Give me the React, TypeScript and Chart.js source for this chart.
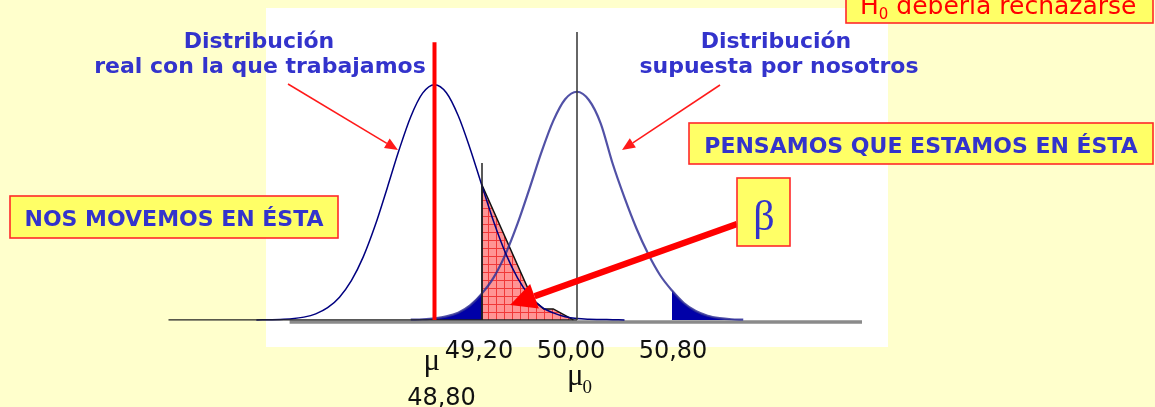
import React, { useEffect, useRef } from "react";
import { Chart, registerables } from "chart.js";

Chart.register(...registerables);

// ---- Data (x = sample mean, y = relative density) ----
const realCurveX = [
  47.3, 47.4, 47.5, 47.6, 47.7, 47.8, 47.9, 48.0, 48.1, 48.2, 48.3, 48.4, 48.5, 48.6, 48.7, 48.8,
  48.9, 49.0, 49.1, 49.2, 49.3, 49.4, 49.5, 49.6, 49.7, 49.8, 49.9, 50.0, 50.1, 50.2, 50.3, 50.4,
];
const realCurveY = [
  0.0, 0.001, 0.002, 0.005, 0.012, 0.026, 0.052, 0.097, 0.167, 0.268, 0.401, 0.558, 0.72, 0.864, 0.964, 1.0,
  0.966, 0.868, 0.728, 0.57, 0.415, 0.282, 0.178, 0.103, 0.056, 0.03, 0.014, 0.006, 0.003, 0.002, 0.001, 0.0,
];

const assumedCurveX = [
  48.6, 48.7, 48.8, 48.9, 49.0, 49.1, 49.2, 49.3, 49.4, 49.5, 49.6, 49.7, 49.8, 49.9, 50.0,
  50.1, 50.2, 50.3, 50.4, 50.5, 50.6, 50.7, 50.8, 50.9, 51.0, 51.1, 51.2, 51.3, 51.4,
];
const assumedCurveY = [
  0.001, 0.003, 0.007, 0.015, 0.031, 0.062, 0.113, 0.182, 0.282, 0.41, 0.558, 0.712, 0.846, 0.938, 0.97,
  0.935, 0.835, 0.665, 0.52, 0.39, 0.28, 0.19, 0.125, 0.072, 0.038, 0.018, 0.008, 0.003, 0.001,
];

const betaX = [49.2, 49.2, 49.63, 49.72, 49.8, 49.97];
const betaY = [0, 0.574, 0.085, 0.047, 0.047, 0];

const criticalLow = 49.2;
const criticalHigh = 50.8;
const realMean = 48.8;
const assumedMean = 50.0;

const tickValues = [49.2, 50.0, 50.8];
const tickLabels = ["49,20", "50,00", "50,80"];
const realMeanLabel = "48,80";

const axisExtent = [46.56, 50.0];
const grayAxisExtent = [47.58, 52.4];
const realMeanLineTop = 1.18;
const assumedMeanLineTop = 1.224;
const criticalLineTop = 0.667;

const pts = (xs: number[], ys: number[]) => xs.map((x, i) => ({ x, y: ys[i] }));

function makeHatch(): CanvasPattern | string {
  const c = document.createElement("canvas");
  c.width = 8;
  c.height = 8;
  const g = c.getContext("2d");
  if (!g) return "#FF9090";
  g.fillStyle = "#FF9494";
  g.fillRect(0, 0, 8, 8);
  g.fillStyle = "#F03838";
  g.fillRect(0, 0, 8, 1);
  g.fillRect(0, 0, 1, 8);
  return g.createPattern(c, "repeat") || "#FF9090";
}

function drawArrow(
  ctx: CanvasRenderingContext2D,
  x1: number, y1: number, x2: number, y2: number,
  width: number, headLen: number, headHalf: number, color: string
) {
  const ang = Math.atan2(y2 - y1, x2 - x1);
  const bx = x2 - Math.cos(ang) * headLen;
  const by = y2 - Math.sin(ang) * headLen;
  ctx.save();
  ctx.strokeStyle = color;
  ctx.fillStyle = color;
  ctx.lineWidth = width;
  ctx.beginPath();
  ctx.moveTo(x1, y1);
  ctx.lineTo(bx, by);
  ctx.stroke();
  ctx.beginPath();
  ctx.moveTo(x2, y2);
  ctx.lineTo(bx + Math.sin(ang) * headHalf, by - Math.cos(ang) * headHalf);
  ctx.lineTo(bx - Math.sin(ang) * headHalf, by + Math.cos(ang) * headHalf);
  ctx.closePath();
  ctx.fill();
  ctx.restore();
}

function drawBox(ctx: CanvasRenderingContext2D, x: number, y: number, w: number, h: number) {
  ctx.save();
  ctx.fillStyle = "#FFFF66";
  ctx.fillRect(x, y, w, h);
  ctx.strokeStyle = "#FF2A2A";
  ctx.lineWidth = 1.6;
  ctx.strokeRect(x, y, w, h);
  ctx.restore();
}

const annotationPlugin = {
  id: "slideAnnotations",
  beforeDraw(chart: any) {
    const ctx: CanvasRenderingContext2D = chart.ctx;
    ctx.save();
    ctx.fillStyle = "#FFFFCC";
    ctx.fillRect(0, 0, chart.width, chart.height);
    ctx.fillStyle = "#FFFFFF";
    ctx.fillRect(266, 8, 622, 339);
    ctx.restore();
  },
  afterDraw(chart: any) {
    const ctx: CanvasRenderingContext2D = chart.ctx;
    const xs = chart.scales.x;
    const blue = "#3333CC";
    ctx.save();
    ctx.textBaseline = "alphabetic";

    // thin pointer arrows
    drawArrow(ctx, 288, 84, 398, 150, 1.5, 13, 5.5, "#FF1A1A");
    drawArrow(ctx, 720, 85, 622, 150, 1.5, 13, 5.5, "#FF1A1A");

    // captions
    ctx.fillStyle = blue;
    ctx.font = "bold 22px 'DejaVu Sans'";
    ctx.textAlign = "center";
    ctx.fillText("Distribución", 259, 48);
    ctx.fillText("real con la que trabajamos", 260, 73);
    ctx.fillText("Distribución", 776, 48);
    ctx.fillText("supuesta por nosotros", 779, 73);

    // boxes
    drawBox(ctx, 10, 196, 328, 42);
    ctx.fillStyle = blue;
    ctx.fillText("NOS MOVEMOS EN ÉSTA", 174, 226);

    drawBox(ctx, 689, 123, 464, 41);
    ctx.fillStyle = blue;
    ctx.fillText("PENSAMOS QUE ESTAMOS EN ÉSTA", 921, 153);

    // big beta arrow
    drawArrow(ctx, 737, 224, 510, 305, 6.5, 26, 13, "#FF0000");

    drawBox(ctx, 737, 178, 53, 68);
    ctx.fillStyle = blue;
    ctx.font = "42px 'Liberation Serif'";
    ctx.fillText("β", 764, 230);

    // H0 box
    drawBox(ctx, 846, -4, 307, 27);
    ctx.fillStyle = "#FF0000";
    ctx.textAlign = "left";
    ctx.font = "25px 'DejaVu Sans'";
    ctx.fillText("H", 860, 14);
    const hw = ctx.measureText("H").width;
    ctx.font = "15px 'DejaVu Sans'";
    ctx.fillText("0", 860 + hw, 19);
    const zw = ctx.measureText("0").width;
    ctx.font = "25px 'DejaVu Sans'";
    ctx.fillText(" debería rechazarse", 860 + hw + zw, 14);

    // tick labels
    ctx.fillStyle = "#111111";
    ctx.textAlign = "center";
    ctx.font = "24px 'DejaVu Sans'";
    const tickOffsets = [-3, -6, 1];
    tickValues.forEach((v, i) => {
      ctx.fillText(tickLabels[i], xs.getPixelForValue(v) + tickOffsets[i], 358);
    });
    ctx.fillText(realMeanLabel, xs.getPixelForValue(realMean) + 7, 405);

    // mu labels
    ctx.textAlign = "left";
    ctx.font = "31px 'Liberation Serif'";
    ctx.fillText("μ", xs.getPixelForValue(realMean) - 11, 370);
    const mx = xs.getPixelForValue(assumedMean) - 10;
    ctx.fillText("μ", mx, 385);
    const mw = ctx.measureText("μ").width;
    ctx.font = "19px 'Liberation Serif'";
    ctx.fillText("0", mx + mw - 1, 393);

    ctx.restore();
  },
};

export default function App() {
  const canvasRef = useRef<HTMLCanvasElement | null>(null);

  useEffect(() => {
    if (!canvasRef.current) return;
    const assumed = pts(assumedCurveX, assumedCurveY);
    const chart = new Chart(canvasRef.current, {
      type: "line",
      data: {
        datasets: [
          {
            data: grayAxisExtent.map((x) => ({ x, y: -0.009 })),
            borderColor: "#8A8A8A",
            borderWidth: 3.5,
            fill: false,
            order: 20,
          },
          {
            data: assumed.filter((p) => p.x <= criticalLow + 1e-9),
            borderWidth: 0,
            borderColor: "rgba(0,0,0,0)",
            backgroundColor: "#0000A8",
            fill: "origin",
            cubicInterpolationMode: "monotone",
            order: 15,
          },
          {
            data: assumed.filter((p) => p.x >= criticalHigh - 1e-9),
            borderWidth: 0,
            borderColor: "rgba(0,0,0,0)",
            backgroundColor: "#0000A8",
            fill: "origin",
            cubicInterpolationMode: "monotone",
            order: 15,
          },
          {
            data: pts(betaX, betaY),
            borderColor: "#111111",
            borderWidth: 1.5,
            backgroundColor: makeHatch() as any,
            fill: "origin",
            tension: 0,
            order: 12,
          },
          {
            data: assumed,
            borderColor: "rgba(50,50,150,0.85)",
            borderWidth: 2.2,
            fill: false,
            cubicInterpolationMode: "monotone",
            order: 10,
          },
          {
            data: pts(realCurveX, realCurveY),
            borderColor: "#000080",
            borderWidth: 1.5,
            fill: false,
            cubicInterpolationMode: "monotone",
            order: 8,
          },
          {
            data: axisExtent.map((x) => ({ x, y: 0 })),
            borderColor: "#222222",
            borderWidth: 1.2,
            fill: false,
            order: 5,
          },
          {
            data: [
              { x: realMean, y: 0 },
              { x: realMean, y: realMeanLineTop },
            ],
            borderColor: "#FF0000",
            borderWidth: 4,
            fill: false,
            order: 2,
          },
          {
            data: [
              { x: assumedMean, y: 0 },
              { x: assumedMean, y: assumedMeanLineTop },
            ],
            borderColor: "#333333",
            borderWidth: 1.5,
            fill: false,
            order: 2,
          },
          {
            data: [
              { x: criticalLow, y: 0 },
              { x: criticalLow, y: criticalLineTop },
            ],
            borderColor: "#222222",
            borderWidth: 1.5,
            fill: false,
            order: 2,
          },
        ] as any,
      },
      options: {
        animation: false,
        responsive: true,
        maintainAspectRatio: false,
        events: [],
        layout: { padding: { left: 7, right: 8, top: 0, bottom: 0 } },
        elements: { point: { radius: 0 } },
        plugins: { legend: { display: false }, tooltip: { enabled: false } },
        scales: {
          x: { type: "linear", min: 45.2, max: 54.8, display: false },
          y: { type: "linear", min: -0.37, max: 1.36, display: false },
        },
      },
      plugins: [annotationPlugin],
    });
    return () => chart.destroy();
  }, []);

  return (
    <div
      style={{
        position: "fixed",
        left: 0,
        top: 0,
        width: 1155,
        height: 407,
        background: "#FFFFCC",
      }}
    >
      <canvas ref={canvasRef} />
    </div>
  );
}
